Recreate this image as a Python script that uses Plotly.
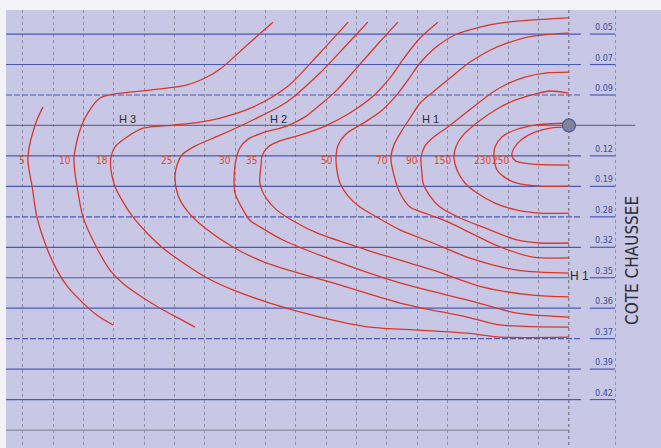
import plotly.graph_objects as go

# ---------------------------------------------------------------- data ----
# Iso-lines (grid units: one column / one row = 10), listed outermost first
contour_levels = ["5", "10", "18", "25", "30", "35", "50", "70", "90", "150", "230", "250"]

x_c5 = [6.6, 4.6, 3.0, 2.0, 1.6, 2.3, 3.0, 4.6, 7.9, 11.2, 14.8, 19.5, 24.4, 29.7]
y_c5 = [24.0, 28.2, 33.2, 37.4, 41.4, 46.3, 49.9, 60.1, 70.3, 77.5, 83.1, 88.0, 92.3, 95.5]

x_c10 = [82.4, 73.9, 65.0, 60.7, 54.1, 41.9, 29.7, 25.4, 21.4, 18.8, 17.5, 16.8, 17.1, 17.8,
         19.8, 24.4, 28.7, 33.6, 39.2, 45.2, 51.1, 56.7]
y_c10 = [-3.9, 3.6, 11.5, 14.1, 16.7, 18.4, 19.7, 21.0, 25.9, 31.5, 36.4, 40.7, 45.3, 49.9,
         60.1, 70.3, 77.5, 82.4, 86.3, 90.0, 93.2, 96.2]

x_c18 = [107.2, 97.9, 87.0, 75.8, 65.0, 58.4, 49.5, 39.6, 34.3, 30.3, 29.0, 29.0, 30.3, 33.0,
         36.3, 40.9, 46.2, 53.4, 60.7, 69.2, 81.4, 97.9, 114.4, 130.9, 146.4, 157.3, 180.0]
y_c18 = [-3.9, 6.2, 17.4, 24.0, 27.6, 28.9, 29.9, 30.9, 33.8, 37.1, 40.4, 44.6, 49.9, 55.2,
         60.1, 65.3, 70.3, 75.5, 80.1, 84.0, 88.3, 92.9, 96.2, 97.2, 98.2, 99.5, 99.5]

x_c25 = [113.7, 107.2, 97.9, 87.0, 75.8, 65.0, 56.7, 52.4, 50.8, 50.1, 51.1, 54.4, 60.0, 69.2,
         80.4, 102.2, 124.3, 146.4, 157.3, 180.0]
y_c25 = [-3.9, 3.0, 12.8, 22.3, 28.2, 33.2, 36.8, 39.7, 43.0, 46.9, 52.9, 58.4, 63.7, 69.9,
         75.2, 81.7, 88.3, 92.9, 95.5, 96.2]

x_c30 = [123.6, 116.7, 108.8, 103.5, 97.9, 93.0, 87.0, 78.8, 74.2, 71.5, 70.2, 69.6, 69.9, 72.2,
         74.8, 79.8, 85.7, 102.2, 124.3, 146.4, 162.9, 180.0]
y_c30 = [-3.9, 3.6, 12.5, 18.4, 23.3, 27.2, 30.2, 32.5, 34.5, 37.4, 41.4, 47.9, 52.2, 57.1,
         61.1, 64.3, 67.6, 74.2, 81.7, 87.3, 91.6, 92.9]

x_c35 = [136.8, 130.9, 125.9, 121.0, 115.1, 107.8, 99.6, 91.3, 84.7, 80.8, 78.8, 78.5, 78.1, 80.1,
         83.7, 89.7, 96.9, 113.4, 135.2, 151.7, 168.1, 180.0]
y_c35 = [-3.9, 1.3, 7.5, 14.4, 20.7, 25.9, 30.2, 33.2, 35.1, 37.1, 40.1, 43.0, 48.9, 53.8,
         57.8, 61.7, 65.3, 70.9, 77.5, 83.1, 85.7, 86.3]

x_c50 = [180.0, 159.6, 150.7, 142.4, 135.8, 130.9, 126.9, 122.6, 117.7, 111.8, 106.5, 103.9, 103.2,
         103.5, 104.5, 107.2, 111.1, 117.7, 124.3, 135.2, 146.4, 162.9, 180.0]
y_c50 = [-5.3, -3.9, -2.3, 0.3, 4.6, 9.5, 15.1, 20.7, 25.6, 29.5, 32.8, 36.4, 40.7,
         44.6, 48.9, 53.2, 56.8, 60.7, 64.3, 68.6, 73.2, 77.5, 78.5]

x_c70 = [180.0, 168.1, 159.6, 154.0, 147.4, 140.8, 135.2, 130.9, 127.6, 124.6, 122.3, 121.3, 122.3,
         124.3, 127.6, 134.2, 140.8, 149.0, 157.3, 168.1, 180.0]
y_c70 = [-0.3, 0.7, 3.0, 5.3, 9.2, 14.4, 19.0, 22.7, 27.6, 32.2, 36.4, 40.7, 46.3,
         52.2, 56.8, 59.4, 62.0, 66.0, 69.9, 73.2, 73.5]

x_c90 = [180.0, 172.1, 165.5, 159.6, 155.0, 150.0, 145.1, 140.1, 135.8, 132.5, 131.2, 131.5, 131.9,
         134.2, 137.5, 144.1, 151.7, 162.9, 170.5, 180.0]
y_c90 = [12.5, 12.8, 14.1, 16.4, 19.0, 22.7, 26.6, 30.5, 33.5, 36.8, 40.7, 45.3, 48.9,
         53.2, 56.8, 60.4, 63.4, 67.6, 68.6, 68.6]

x_c150 = [180.0, 173.8, 168.8, 162.2, 155.6, 150.0, 145.1, 142.8, 142.1, 143.1, 145.7, 149.7,
          155.6, 162.9, 170.5, 180.0]
y_c150 = [19.4, 18.7, 19.7, 21.7, 25.0, 28.9, 33.2, 36.8, 40.7, 44.6, 48.9, 52.2,
          55.5, 57.8, 58.8, 58.8]

x_c230 = [180.0, 168.8, 162.2, 157.9, 155.6, 155.3, 156.3, 159.2, 162.9, 170.5, 180.0]
y_c230 = [29.2, 29.9, 31.5, 33.8, 37.1, 40.7, 44.6, 47.3, 48.9, 49.9, 49.9]

x_c250 = [180.0, 173.8, 168.8, 164.5, 161.9, 161.2, 162.5, 168.1, 180.0]
y_c250 = [30.5, 30.9, 32.2, 34.5, 37.4, 40.1, 41.7, 42.7, 43.0]

# road-level scale ("cote chaussee") on the right-hand side
cote_rows = [0, 10, 20, 40, 50, 60, 70, 80, 90, 100, 110, 120]
cote_labels = ["0.05", "0.07", "0.09", "0.12", "0.19", "0.28", "0.32", "0.35",
               "0.36", "0.37", "0.39", "0.42"]
dashed_rows = [20, 60, 100]
reference_rows = [30, 130]

grid_cols = [0, 10, 20, 30, 40, 50, 60, 70, 80, 90, 100, 110, 120, 130, 140, 150, 160, 170, 180, 195.5]

zone_names = ["H 3", "H 2", "H 1"]
zone_x = [34.3, 84.4, 134.5]
zone_y = [28.0, 28.0, 28.0]

source_x = [180]
source_y = [30]

# ---------------------------------------------------------------- style ---
LAV = "#c8c8e6"
PAPER = "#f3f3f7"
RED = "#d8362a"
LABEL_RED = "#e2461f"
BLUE = "#4a5ab2"
GREY = "#6e6e80"
TXT = "#2b2b2f"
NARROW = "Liberation Sans Narrow, DejaVu Sans Condensed, Roboto, sans-serif"

X_MIN, X_MAX = -5.6, 210.35
Y_TOP, Y_BOT = -7.9, 135.9
LINE_END = 184.0
TAB0, TAB1 = 186.9, 195.2

curves = [
    (x_c5, y_c5), (x_c10, y_c10), (x_c18, y_c18), (x_c25, y_c25), (x_c30, y_c30),
    (x_c35, y_c35), (x_c50, y_c50), (x_c70, y_c70), (x_c90, y_c90), (x_c150, y_c150),
    (x_c230, y_c230), (x_c250, y_c250),
]

fig = go.Figure()

shapes = []
for r in cote_rows:
    dash = "6px,2px" if r in dashed_rows else "solid"
    shapes.append(dict(type="line", xref="x", yref="y", x0=X_MIN, x1=LINE_END, y0=r, y1=r,
                       line=dict(color=BLUE, width=1.2, dash=dash), layer="between"))
    shapes.append(dict(type="line", xref="x", yref="y", x0=TAB0, x1=TAB1, y0=r, y1=r,
                       line=dict(color=BLUE, width=1.2), layer="between"))
shapes.append(dict(type="line", xref="x", yref="y", x0=X_MIN, x1=201.8,
                   y0=reference_rows[0], y1=reference_rows[0],
                   line=dict(color=GREY, width=1.2), layer="between"))
shapes.append(dict(type="line", xref="x", yref="y", x0=X_MIN, x1=180,
                   y0=reference_rows[1], y1=reference_rows[1],
                   line=dict(color="#8a8a9a", width=1.2), layer="between"))
shapes.append(dict(type="line", xref="x", yref="y", x0=180, x1=180, y0=Y_TOP, y1=Y_BOT,
                   line=dict(color="#7a7a8c", width=1, dash="dot"), layer="between"))

for xs, ys in curves:
    fig.add_trace(go.Scatter(x=xs, y=ys, mode="lines", hoverinfo="skip",
                             line=dict(color=RED, width=1.3, shape="spline", smoothing=0.8)))

fig.add_trace(go.Scatter(x=source_x, y=source_y, mode="markers", hoverinfo="skip",
                         marker=dict(size=13, color="#80849a",
                                     line=dict(color="#4a5aa8", width=1.2))))

annotations = []
for lvl, (xs, ys) in zip(contour_levels, curves):
    annotations.append(dict(x=min(xs) - 0.4, y=41.5, xref="x", yref="y", text=lvl,
                            showarrow=False, xanchor="right", yanchor="middle",
                            font=dict(family=NARROW, size=10, color=LABEL_RED)))
for r, lab in zip(cote_rows, cote_labels):
    annotations.append(dict(x=TAB1, y=r, xref="x", yref="y", text=lab, showarrow=False,
                            xanchor="right", yanchor="bottom",
                            font=dict(family=NARROW, size=9, color="#3a4c9c")))
for name, zx, zy in zip(zone_names, zone_x, zone_y):
    annotations.append(dict(x=zx, y=zy, xref="x", yref="y", text=name, showarrow=False,
                            xanchor="center", yanchor="middle",
                            font=dict(family="Liberation Sans, Arial, sans-serif", size=11, color=TXT)))
annotations.append(dict(x=183.6, y=79.4, xref="x", yref="y", text="H 1", showarrow=False,
                        xanchor="center", yanchor="middle", bgcolor=LAV, borderpad=0,
                        font=dict(family="Liberation Sans, Arial, sans-serif", size=12, color=TXT)))
annotations.append(dict(x=200.8, y=74.5, xref="x", yref="y", text="COTE CHAUSSEE",
                        showarrow=False, textangle=-90, xanchor="center", yanchor="middle",
                        font=dict(family=NARROW, size=17, color="#2e2e36")))

fig.update_layout(
    width=661, height=448,
    margin=dict(l=6, r=0, t=10, b=0),
    paper_bgcolor=PAPER, plot_bgcolor=LAV,
    showlegend=False,
    shapes=shapes, annotations=annotations,
    xaxis=dict(range=[X_MIN, X_MAX], tickvals=grid_cols, showticklabels=False, ticks="",
               showgrid=True, gridcolor="#8d8da4", griddash="dot", gridwidth=1,
               zeroline=False, showline=False, fixedrange=True),
    yaxis=dict(range=[Y_BOT, Y_TOP], showgrid=False, showticklabels=False, ticks="",
               zeroline=False, showline=False, fixedrange=True),
)

fig.write_html("out.html")
